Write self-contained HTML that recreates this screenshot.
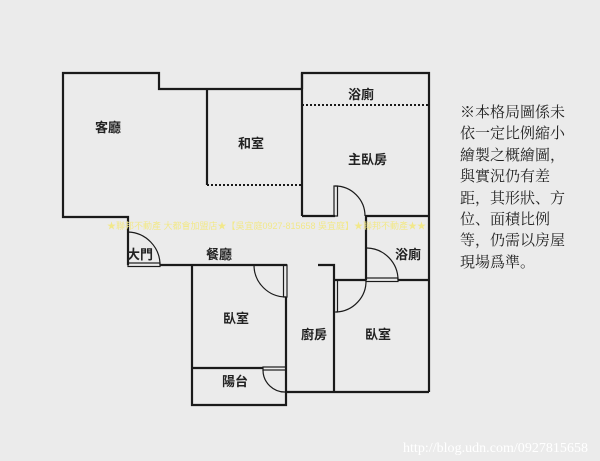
<!DOCTYPE html>
<html><head><meta charset="utf-8"><style>
html,body{margin:0;padding:0;background:#ebebeb;}
svg{display:block;}
.t{font-family:"Liberation Sans","Noto Sans CJK TC",sans-serif;font-weight:bold;font-size:13px;fill:#222;}
.n{font-family:"Liberation Serif","Noto Serif CJK SC",serif;font-size:15px;fill:#222;}
</style></head><body>
<svg width="600" height="461" viewBox="0 0 600 461">
<rect width="600" height="461" fill="#ebebeb"/>
<g stroke="#1a1a1a" stroke-width="2.2" fill="none">
<!-- living room outline -->
<polyline points="128,265 128,217 63,217 63,73 159,73 159,89 302,89"/>
<!-- master bedroom -->
<polyline points="302,89 302,73 429,73 429,392"/>
<line x1="302" y1="73" x2="302" y2="216"/>
<line x1="302" y1="216" x2="335" y2="216"/>
<line x1="365" y1="216" x2="429" y2="216"/>
<!-- washroom -->
<line x1="366" y1="216" x2="366" y2="280"/>
<line x1="398" y1="280" x2="429" y2="280"/>
<!-- washitsu -->
<line x1="207" y1="89" x2="207" y2="185"/>
<!-- dining bottom -->
<line x1="160" y1="265" x2="287" y2="265"/>
<!-- bedroom1 -->
<polyline points="192,265 192,405 286,405 286,297"/>
<line x1="192" y1="368" x2="263" y2="368"/>
<line x1="286" y1="392" x2="429" y2="392"/>
<!-- kitchen -->
<polyline points="318,265 334,265 334,392"/>
<!-- right bedroom top -->
<line x1="334" y1="280" x2="366" y2="280"/>
</g>
<g stroke="#1a1a1a" stroke-width="2" stroke-dasharray="2,2" fill="none">
<line x1="302" y1="105" x2="429" y2="105"/>
<line x1="207" y1="185" x2="302" y2="185"/>
</g>
<g stroke="#1a1a1a" stroke-width="1.2" fill="none">
<!-- main door -->
<path d="M128,232 A33,33 0 0 1 160,265"/>
<rect x="128" y="263" width="32" height="3.5"/>
<!-- master door -->
<rect x="334" y="186" width="3.5" height="30"/>
<path d="M335,186 A30,30 0 0 1 365,216"/>
<!-- bedroom1 door -->
<rect x="283.5" y="265" width="3.5" height="32"/>
<path d="M254,265 A32,32 0 0 0 286,297"/>
<!-- balcony door -->
<path d="M263,370 A22,22 0 0 0 286,392"/>
<rect x="263" y="367" width="23" height="3"/>
<!-- right bedroom door -->
<rect x="334" y="280" width="3.5" height="32"/>
<path d="M336,312 A31,31 0 0 0 366,280"/>
<!-- small bath door -->
<rect x="366" y="278" width="32" height="3.5"/>
<path d="M367,248 A32,32 0 0 1 398,280"/>
</g>
<text class="t" x="95" y="132">客廳</text>
<text class="t" x="238" y="148">和室</text>
<text class="t" x="348" y="99">浴廁</text>
<text class="t" x="348" y="164">主臥房</text>
<text class="t" x="395" y="259">浴廁</text>
<text class="t" x="127" y="259">大門</text>
<text class="t" x="206" y="259">餐廳</text>
<text class="t" x="223" y="323">臥室</text>
<text class="t" x="301" y="339">廚房</text>
<text class="t" x="365" y="339">臥室</text>
<text class="t" x="222" y="386">陽台</text>
<text x="107" y="229" font-family="Liberation Sans,sans-serif" font-size="9" fill="#f2e88a">★聯邦不動產 大都會加盟店★【吳宜庭0927-815658 吳宜庭】★聯邦不動產★★</text>
<g class="n">
<text x="460" y="117">※本格局圖係未</text>
<text x="460" y="138">依一定比例縮小</text>
<text x="460" y="160">繪製之概繪圖，</text>
<text x="460" y="181">與實況仍有差</text>
<text x="460" y="203">距，其形狀、方</text>
<text x="460" y="224">位、面積比例</text>
<text x="460" y="245">等，仍需以房屋</text>
<text x="460" y="267">現場爲準。</text>
</g>
<text x="403" y="452" font-family="Liberation Serif,serif" font-size="14" fill="#ffffff" textLength="185">http://blog.udn.com/0927815658</text>
</svg>
</body></html>
